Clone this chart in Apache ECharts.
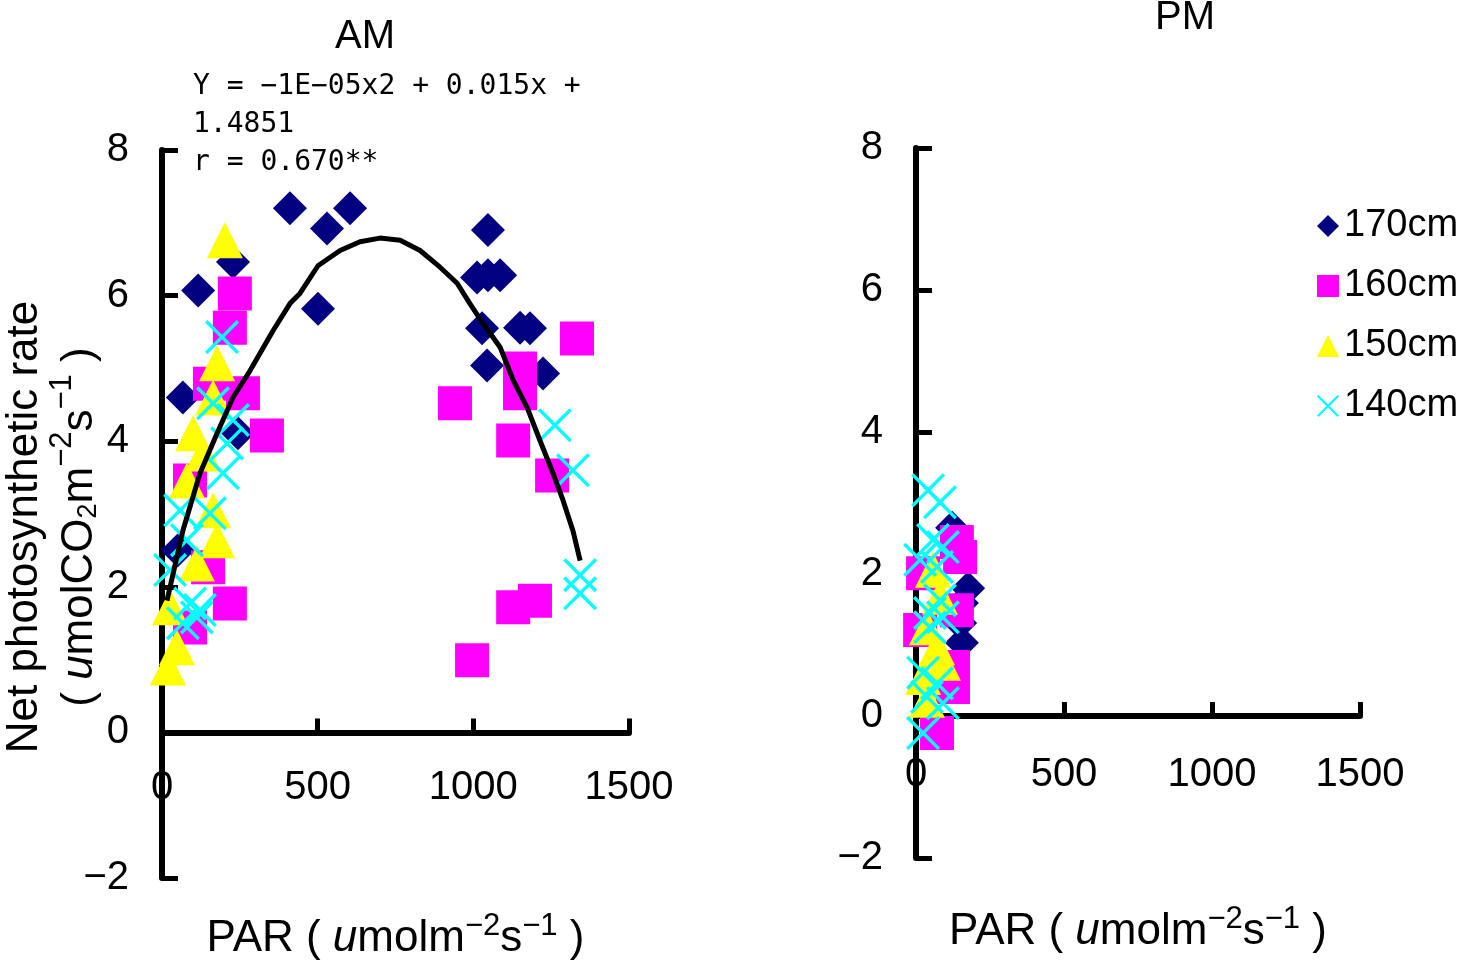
<!DOCTYPE html>
<html>
<head>
<meta charset="utf-8">
<style>html,body{margin:0;padding:0;background:#fff;}#c{width:1468px;height:963px;}</style>
<script src="https://cdn.jsdelivr.net/npm/echarts@6/dist/echarts.min.js"></script>
</head>
<body>
<div id="c"></div>
<script>
// ---- data ----
const seriesNames = ['170cm', '160cm', '150cm', '140cm'];
const xTicks = [0, 500, 1000, 1500];
const yTicks = [-2, 0, 2, 4, 6, 8];

// AM panel
const am170 = [[411,7.20],[530,6.92],[604,7.20],[501,5.82],[116,6.07],[228,6.46],[67,4.60],[244,4.11],[50,2.5],
  [1047,6.90],[1012,6.25],[1047,6.28],[1086,6.28],[1028,5.55],[1150,5.56],[1182,5.55],[1044,5.04],[1224,4.93]];
const am160 = [[234,6.03],[218,5.56],[154,4.79],[260,4.66],[337,4.08],[90,3.46],[148,2.27],[218,1.77],[90,1.44],
  [1333,5.41],[1150,5.00],[1150,4.66],[941,4.52],[1128,4.01],[1253,3.53],[1128,1.72],[1198,1.81],[996,0.99]];
const am150 = [[202,6.76],[177,5.07],[164,4.60],[100,4.11],[132,3.83],[80,3.46],[164,3.05],[177,2.64],[112,2.32],
  [26,1.72],[48,1.17],[19,0.89]];
const am140 = [[193,5.43],[164,4.52],[228,4.29],[209,3.97],[196,3.56],[58,3.05],[154,3.01],[80,2.64],[26,2.23],
  [90,1.77],[122,1.68],[67,1.50],[112,1.58],
  [1262,4.22],[1320,3.60],[1343,2.16],[1343,1.91]];
// fitted curve
const amCurve = [[16,1.81],[67,2.77],[122,3.56],[177,4.11],[228,4.60],[283,4.97],[357,5.52],[411,5.89],[443,6.03],
  [501,6.41],[572,6.62],[636,6.74],[700,6.79],[765,6.76],[829,6.62],[893,6.39],[948,6.17],[989,5.89],[1031,5.62],
  [1086,5.29],[1128,4.84],[1173,4.46],[1214,4.01],[1256,3.56],[1288,3.19],[1320,2.77],[1343,2.36]];

// PM panel
const pm170 = [[122,2.65],[176,1.80],[155,1.59],[149,1.31],[155,1.03]];
const pm160 = [[138,2.45],[149,2.24],[24,2.01],[138,1.49],[14,1.21],[125,0.69],[125,0.41],[71,-0.24]];
const pm150 = [[57,2.06],[81,1.68],[37,1.25],[71,0.97],[91,0.75],[24,0.55],[37,0.23]];
const pm140 = [[41,3.18],[81,3.01],[57,2.48],[91,2.38],[14,2.20],[71,2.10],[81,1.63],[47,1.45],[91,1.39],
  [47,1.25],[24,0.61],[71,0.46],[37,0.27],[91,0.18],[24,-0.24]];

const eqLines = ['Y = −1E−05x2 + 0.015x +', '1.4851', 'r = 0.670**'];

// ---- styles ----
const COLORS = ['#000080', '#ff00ff', '#ffff00', '#00ffff'];
const CROSS = 'path://M0,7L7,0L50,43L93,0L100,7L57,50L100,93L93,100L50,57L7,100L0,93L43,50Z';
const SYMBOLS = ['diamond', 'rect', 'triangle', CROSS];
const SIZES = [34, 34, 36, 34];
const FONT = '"Liberation Sans", Arial, sans-serif';

function makeRich(fs, lh) {
  return {
    n: {fontSize: fs, fontFamily: FONT, color: '#000', lineHeight: lh, verticalAlign: 'bottom'},
    i: {fontSize: fs, fontFamily: FONT, fontStyle: 'italic', color: '#000', lineHeight: lh, verticalAlign: 'bottom'},
    sup: {fontSize: Math.round(fs * 0.7), fontFamily: FONT, color: '#000', lineHeight: lh, verticalAlign: 'top', padding: [0, 0, 16, 0]},
    sub: {fontSize: Math.round(fs * 0.62), fontFamily: FONT, color: '#000', lineHeight: lh, verticalAlign: 'bottom', padding: [8, 0, 0, 0]}
  };
}

function xAxisCfg(gridIndex, labelMargin, nameGap) {
  return {
    gridIndex, type: 'value', min: 0, max: 1500, interval: 500,
    axisLine: {onZero: true, lineStyle: {color: '#000', width: 6}},
    axisTick: {inside: true, length: 14, lineStyle: {color: '#000', width: 5}},
    axisLabel: {margin: labelMargin, fontSize: 40, fontFamily: FONT, color: '#000',
      formatter: v => String(v)},
    splitLine: {show: false},
    name: '{n|PAR ( }{i|u}{n|molm}{sup|−2}{n|s}{sup|−1}{n| )}',
    nameLocation: 'middle', nameGap, nameMoveOverlap: false,
    nameTextStyle: {rich: makeRich(44, 50)}
  };
}
function yAxisCfg(gridIndex, withName) {
  const a = {
    gridIndex, type: 'value', min: -2, max: 8, interval: 2,
    axisLine: {onZero: false, lineStyle: {color: '#000', width: 6}},
    axisTick: {inside: true, length: 16, lineStyle: {color: '#000', width: 5}},
    axisLabel: {margin: 33, fontSize: 40, fontFamily: FONT, color: '#000',
      formatter: v => String(v).replace('-', '−')},
    splitLine: {show: false}
  };
  if (withName) {
    a.name = '{n|Net photosynthetic rate}\n{n|( }{i|u}{n|molCO}{sub|2}{n|m}{sup|−2}{n|s}{sup|−1}{n| )}';
    a.nameLocation = 'middle';
    a.nameRotate = 90;
    a.nameGap = 60;
    a.nameMoveOverlap = false;
    a.nameTextStyle = {rich: makeRich(44, 55), align: 'center', padding: [0, 26, 0, 0]};
  }
  return a;
}

const amData = [am170, am160, am150, am140];
const pmData = [pm170, pm160, pm150, pm140];
const series = [];
[amData, pmData].forEach((set, gi) => {
  set.forEach((d, k) => {
    series.push({
      name: seriesNames[k], type: 'scatter', xAxisIndex: gi, yAxisIndex: gi,
      data: d, symbol: SYMBOLS[k], symbolSize: SIZES[k],
      itemStyle: {color: COLORS[k], opacity: 1}, z: 2 + k
    });
  });
});
series.push({
  name: 'fit', type: 'line', xAxisIndex: 0, yAxisIndex: 0, data: amCurve,
  showSymbol: false, symbol: 'none', lineStyle: {color: '#000', width: 5}, z: 10, silent: true
});

const chart = echarts.init(document.getElementById('c'), null, {renderer: 'canvas'});
chart.setOption({
  backgroundColor: '#fff',
  animation: false,
  title: [
    {text: 'AM', left: 360, top: 12, textAlign: 'center', textStyle: {fontSize: 40, fontWeight: 'normal', fontFamily: FONT, color: '#000'}},
    {text: 'PM', left: 1180, top: -7, textAlign: 'center', textStyle: {fontSize: 40, fontWeight: 'normal', fontFamily: FONT, color: '#000'}}
  ],
  grid: [
    {left: 162, top: 150, width: 467, height: 728, containLabel: false, outerBoundsMode: 'none'},
    {left: 916, top: 148, width: 444, height: 710, containLabel: false, outerBoundsMode: 'none'}
  ],
  xAxis: [xAxisCfg(0, -110, 33), xAxisCfg(1, -103, 46)],
  yAxis: [yAxisCfg(0, true), yAxisCfg(1, false)],
  legend: {
    orient: 'vertical', left: 1312, top: 202,
    itemWidth: 22, itemHeight: 22, itemGap: 22,
    data: seriesNames.map((n, k) => ({name: n, icon: SYMBOLS[k]})),
    textStyle: {fontSize: 38, fontFamily: FONT, color: '#000'}
  },
  graphic: eqLines.map((t, i) => ({
    type: 'text', left: 193, top: 73 + i * 38,
    style: {text: t, font: '28px "DejaVu Sans Mono", monospace', fill: '#000'}
  })),
  series
});
</script>
</body>
</html>
